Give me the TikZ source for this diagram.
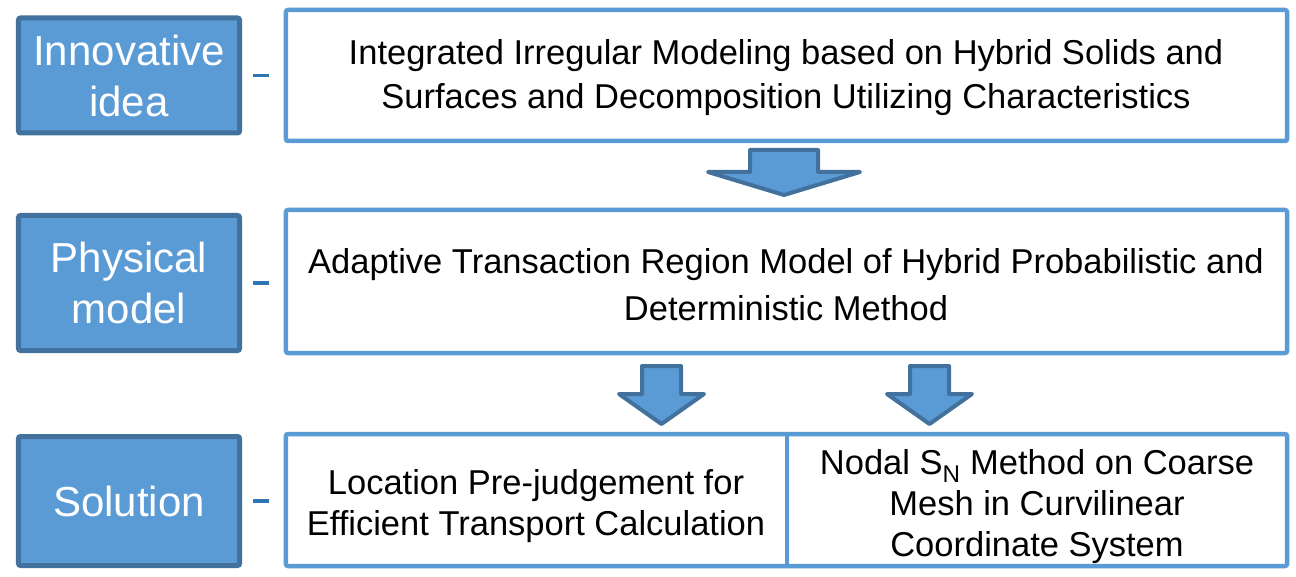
\documentclass[tikz,border=0pt]{standalone}
\usepackage{fontspec}
\setmainfont{Liberation Sans}
\definecolor{lblue}{HTML}{5B9BD5}
\definecolor{dblue}{HTML}{41719C}
\definecolor{cblue}{HTML}{2E75B6}
\begin{document}
\begin{tikzpicture}[x=1bp,y=-1bp,
  labelbox/.style={draw=dblue,fill=lblue,line width=5bp,rounded corners=2bp,
    minimum width=221bp,inner sep=0pt,align=center,text=white,
    font=\fontsize{42bp}{51bp}\selectfont},
  contentbox/.style={draw=lblue,fill=white,line width=4.5bp,rounded corners=2bp,
    minimum width=1001bp,inner sep=0pt},
  celltext/.style={inner sep=0pt,align=center,text=black,
    font=\fontsize{34.5bp}{41bp}\selectfont},
  blockarrow/.style={draw=dblue,fill=lblue,line width=4bp,line join=round},
  link/.style={draw=cblue,line width=3.5bp,dash pattern=on 16bp off 15bp,dash phase=20bp}
]
\useasboundingbox (0,0) rectangle (1296,577);

% left labels
\node[labelbox,minimum height=115bp] (idea) at (129,75.5) {Innovative\\idea};
\node[labelbox,minimum height=135bp] (phys) at (129,283) {Physical\\model};
\node[labelbox,minimum height=129bp] (sol) at (129,501) {Solution};

% right boxes
\node[contentbox,minimum height=131bp] (top) at (786.5,75.5) {};
\node[contentbox,minimum height=143bp] (mid) at (786.5,281.5) {};
\node[contentbox,minimum height=132bp] (bot) at (786.5,500) {};
\draw[draw=lblue,line width=4.5bp] (787,434) -- (787,566);

\node[celltext,font=\fontsize{34.5bp}{44bp}\selectfont] (ttxt) at (786,78) {Integrated Irregular Modeling based on Hybrid Solids and\\Surfaces and Decomposition Utilizing Characteristics};
\node[celltext,font=\fontsize{34.5bp}{47bp}\selectfont] (mtxt) at (786,285) {Adaptive Transaction Region Model of Hybrid Probabilistic and\\Deterministic Method};
\node[celltext] (bl) at (536,506) {Location Pre-judgement for\\Efficient Transport Calculation};
\node[celltext] (br) at (1037,507) {Nodal S\textsubscript{N} Method on Coarse\\Mesh in Curvilinear\\Coordinate System};

% block arrows
\draw[blockarrow] (750,150) -- (818,150) -- (818,172) -- (860,172) -- (784,195) -- (708,172) -- (750,172) -- cycle;
\draw[blockarrow] (642,366) -- (681,366) -- (681,394) -- (704,394) -- (661.5,424) -- (619,394) -- (642,394) -- cycle;
\draw[blockarrow] (910,366) -- (949,366) -- (949,394) -- (972,394) -- (929.5,424) -- (887,394) -- (910,394) -- cycle;

% dashed links
\draw[link] (idea.east) -- (idea.east -| top.west);
\draw[link] (phys.east) -- (phys.east -| mid.west);
\draw[link] (sol.east) -- (sol.east -| bot.west);
\end{tikzpicture}
\end{document}
